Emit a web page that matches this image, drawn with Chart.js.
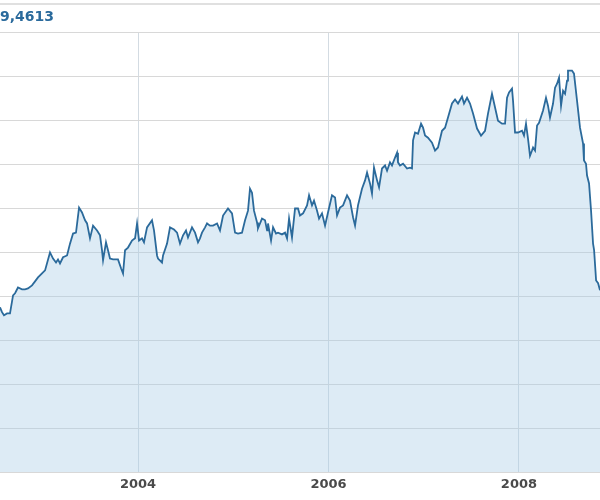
<!DOCTYPE html>
<html>
<head>
<meta charset="utf-8">
<title>Kursverlauf</title>
<script src="https://cdn.jsdelivr.net/npm/chart.js@4.4.0/dist/chart.umd.min.js"></script>
<style>
    html, body { margin: 0; padding: 0; background: #fff; }
    canvas { display: block; }
</style>
</head>
<body>
<canvas id="kurs-chart" width="600" height="500"></canvas>
<script>
// letzter Kurs (links oben, abgeschnitten wie im Original)
var lastValue = '9,4613';
var tickYears = [2004, 2006, 2008];

// Zeitachse in Dezimaljahren, Werte in Rastereinheiten (10 pro Gitterlinie)
var years = [
    2002.551, 2002.572, 2002.593, 2002.625, 2002.656, 2002.688, 2002.709, 2002.740, 2002.782, 2002.814,
    2002.845, 2002.887, 2002.919, 2002.950, 2002.992, 2003.024, 2003.076, 2003.108, 2003.139, 2003.160,
    2003.181, 2003.213, 2003.255, 2003.286, 2003.318, 2003.349, 2003.381, 2003.412, 2003.444, 2003.465,
    2003.496, 2003.528, 2003.570, 2003.601, 2003.622, 2003.633, 2003.664, 2003.685, 2003.706, 2003.738,
    2003.790, 2003.822, 2003.843, 2003.864, 2003.895, 2003.937, 2003.969, 2003.990, 2004.011, 2004.042,
    2004.063, 2004.095, 2004.147, 2004.168, 2004.200, 2004.210, 2004.252, 2004.263, 2004.305, 2004.336,
    2004.378, 2004.410, 2004.441, 2004.473, 2004.504, 2004.525, 2004.567, 2004.599, 2004.630, 2004.651,
    2004.672, 2004.704, 2004.725, 2004.756, 2004.788, 2004.830, 2004.861, 2004.893, 2004.945, 2004.987,
    2005.019, 2005.050, 2005.092, 2005.124, 2005.155, 2005.176, 2005.197, 2005.218, 2005.250, 2005.260,
    2005.302, 2005.334, 2005.355, 2005.365, 2005.397, 2005.418, 2005.449, 2005.470, 2005.512, 2005.544,
    2005.565, 2005.586, 2005.617, 2005.649, 2005.680, 2005.701, 2005.733, 2005.775, 2005.796, 2005.827,
    2005.848, 2005.880, 2005.901, 2005.932, 2005.964, 2005.995, 2006.037, 2006.069, 2006.090, 2006.121,
    2006.153, 2006.195, 2006.226, 2006.258, 2006.279, 2006.310, 2006.352, 2006.384, 2006.405, 2006.436,
    2006.457, 2006.478, 2006.510, 2006.531, 2006.562, 2006.594, 2006.615, 2006.646, 2006.667, 2006.699,
    2006.720, 2006.730, 2006.751, 2006.783, 2006.825, 2006.856, 2006.877, 2006.888, 2006.909, 2006.940,
    2006.972, 2006.993, 2007.014, 2007.045, 2007.087, 2007.119, 2007.150, 2007.192, 2007.224, 2007.255,
    2007.297, 2007.329, 2007.360, 2007.402, 2007.423, 2007.455, 2007.486, 2007.518, 2007.560, 2007.602,
    2007.644, 2007.675, 2007.717, 2007.749, 2007.780, 2007.822, 2007.854, 2007.875, 2007.896, 2007.927,
    2007.938, 2007.959, 2007.990, 2008.032, 2008.053, 2008.074, 2008.095, 2008.116, 2008.137, 2008.148,
    2008.169, 2008.190, 2008.211, 2008.253, 2008.284, 2008.305, 2008.326, 2008.358, 2008.379, 2008.400,
    2008.421, 2008.442, 2008.463, 2008.484, 2008.505, 2008.515, 2008.557, 2008.578, 2008.610, 2008.641,
    2008.673, 2008.683, 2008.704, 2008.715, 2008.736, 2008.757, 2008.778, 2008.789, 2008.810, 2008.831,
    2008.851
];
var values = [
    37.5, 36.4, 35.7, 36.1, 36.1, 40.2, 40.7, 42.0, 41.6, 41.6,
    41.8, 42.5, 43.4, 44.3, 45.2, 45.9, 50.0, 48.6, 47.7, 48.4,
    47.5, 48.9, 49.3, 52.0, 54.3, 54.5, 60.2, 59.1, 57.3, 56.6,
    53.2, 56.1, 55.0, 53.9, 50.5, 48.2, 52.3, 50.5, 48.6, 48.4,
    48.4, 46.4, 45.2, 50.5, 51.1, 52.7, 53.2, 56.6, 52.7, 53.2,
    52.3, 55.7, 57.3, 55.0, 49.3, 48.6, 47.7, 49.3, 52.0, 55.7,
    55.2, 54.5, 52.0, 53.9, 55.0, 53.4, 55.7, 54.5, 52.3, 53.2,
    54.5, 55.7, 56.6, 56.1, 56.1, 56.6, 55.0, 58.4, 60.0, 58.9,
    54.5, 54.3, 54.5, 57.3, 59.5, 64.5, 63.6, 59.5, 56.8, 55.5,
    57.7, 57.3, 55.0, 56.6, 52.7, 55.7, 54.3, 54.5, 54.1, 54.5,
    53.2, 57.7, 53.4, 60.0, 60.0, 58.4, 58.9, 60.7, 63.0, 60.7,
    61.8, 59.5, 57.7, 58.9, 56.1, 59.1, 63.0, 62.5, 58.4, 60.2,
    60.7, 63.0, 61.8, 58.0, 56.1, 60.7, 64.5, 66.4, 68.2, 65.7,
    63.4, 69.3, 66.4, 64.8, 69.1, 69.8, 68.6, 70.5, 69.8, 71.6,
    72.7, 70.5, 69.8, 70.2, 69.1, 69.3, 69.1, 75.5, 77.3, 77.0,
    79.3, 78.4, 76.6, 76.1, 75.0, 73.2, 73.9, 77.7, 78.4, 80.7,
    83.9, 84.8, 83.9, 85.5, 83.9, 85.2, 83.9, 81.6, 78.2, 76.6,
    77.7, 81.6, 86.1, 83.0, 80.0, 79.3, 79.3, 85.2, 86.4, 87.3,
    84.5, 77.3, 77.3, 77.7, 76.6, 79.3, 75.9, 72.0, 73.2, 73.9,
    73.2, 78.9, 79.5, 82.3, 85.2, 83.4, 80.7, 83.9, 87.5, 88.4,
    89.8, 83.4, 86.8, 86.1, 89.1, 91.4, 91.4, 90.7, 84.5, 78.4,
    74.8, 70.9, 70.2, 67.5, 65.7, 59.5, 52.0, 50.5, 43.6, 43.0,
    41.4
];

// graue Linie ganz oben ueber dem Kurswert
var headerLine = {
    id: 'headerLine',
    beforeDraw: function (chart) {
        var ctx = chart.ctx;
        ctx.save();
        ctx.strokeStyle = '#e0e0e0';
        ctx.lineWidth = 2;
        ctx.beginPath();
        ctx.moveTo(0, 4);
        ctx.lineTo(chart.width, 4);
        ctx.stroke();
        ctx.restore();
    }
};

function drawKursChart() {
    var ctx = document.getElementById('kurs-chart').getContext('2d');
    var points = years.map(function (y, i) { return { x: y, y: values[i] }; });

    new Chart(ctx, {
        type: 'line',
        data: {
            datasets: [{
                data: points,
                borderColor: '#2b6a9b',
                borderWidth: 1.8,
                backgroundColor: 'rgba(170, 205, 230, 0.4)',
                fill: 'origin',
                pointRadius: 0,
                tension: 0
            }]
        },
        options: {
            responsive: false,
            animation: false,
            layout: { padding: 0 },
            plugins: {
                legend: { display: false },
                tooltip: { enabled: false },
                title: {
                    display: true,
                    text: lastValue,
                    align: 'start',
                    color: '#2a6a9c',
                    font: { family: 'DejaVu Sans', size: 14, weight: 'bold' },
                    padding: { top: 9, bottom: 7 }
                }
            },
            scales: {
                x: {
                    type: 'linear',
                    min: 2002.551,
                    max: 2008.851,
                    afterBuildTicks: function (axis) {
                        axis.ticks = tickYears.map(function (v) { return { value: v }; });
                    },
                    afterFit: function (axis) { axis.height = 28; },
                    ticks: {
                        padding: 5,
                        color: '#4a4a4a',
                        font: { family: 'DejaVu Sans', size: 13, weight: 'bold' },
                        callback: function (v) { return String(v); }
                    },
                    grid: { color: '#d3dbe2', drawTicks: false },
                    border: { display: false }
                },
                y: {
                    min: 0,
                    max: 100,
                    ticks: { stepSize: 10, display: false },
                    afterFit: function (axis) { axis.width = 0; },
                    grid: { color: '#d8d8d8', drawTicks: false },
                    border: { display: false }
                }
            }
        },
        plugins: [headerLine]
    });
}

drawKursChart();

window.onerror = function (message, source, lineno, colno, error) {
    console.error('Global error handler:', message, source, lineno, colno, error);
};
</script>
</body>
</html>
